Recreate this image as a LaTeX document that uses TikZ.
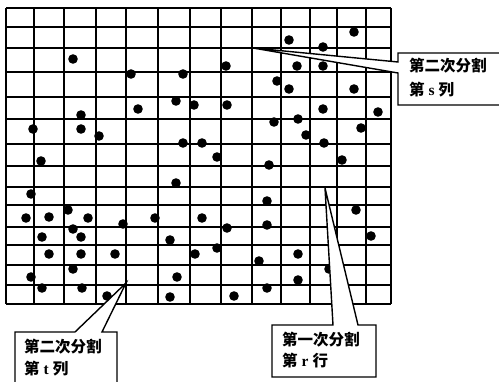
\documentclass[tikz,border=0pt]{standalone}
\usepackage{fontspec}
\setmainfont{Liberation Serif}
\newfontfamily\cjk{Noto Sans CJK SC}
\begin{document}
\begin{tikzpicture}[x=1pt,y=-1pt,
  gridline/.style={line width=1.7pt},
  callout/.style={draw=black,fill=white,line width=1.4pt,line join=miter},
  lbl/.style={anchor=west,inner sep=0pt,font=\fontsize{15.5}{18}\selectfont\bfseries}]
\useasboundingbox (0,0) rectangle (499,382);
\clip (0,0) rectangle (499,382);
% grid
\foreach \x in {6,34,64,96,126,158,190,221,252,281,310,337,366,391}
  \draw[gridline] (\x,8) -- (\x,304);
\foreach \y in {8,27,48,72,97,119,144,166,187,205,227,245,265,285,304}
  \draw[gridline] (6,\y) -- (391,\y);
% dots
\foreach \p in {(73,59),(131,74),(183,74),(81,115),(138,109),(176,101),(194,105),(33,129),(81,129),(99,136),(183,143),(202,143),
 (289,40),(354,32),(323,47),(226,66),(297,66),(323,66),(277,81),(289,89),(354,89),(227,105),(323,109),(378,112),(274,122),(298,119),(306,135),(361,128),(324,143),
 (41,161),(176,183),(31,194),(26,218),(49,217),(68,210),(88,218),(123,224),(155,218),(202,218),(73,229),(81,237),(42,237),(170,240),(49,254),(81,254),(115,254),(195,254),(73,269),(31,277),(177,277),(42,288),(82,288),(107,296),(170,297),
 (217,157),(269,165),(342,160),(267,201),(356,210),(227,228),(267,225),(371,236),(217,248),(259,261),(298,254),(298,280),(329,269),(267,288),(234,296)}
  \fill \p circle (4.8pt);
% callouts
\draw[callout] (253,48) -- (398,62) -- (398,53) -- (506,53) -- (506,105) -- (398,105) -- (398,73) -- cycle;
\draw[callout] (126,283) -- (102,332) -- (117,332) -- (117,392) -- (15,392) -- (15,332) -- (75,332) -- cycle;
\draw[callout] (325,188) -- (358,325) -- (376,325) -- (376,377) -- (272,377) -- (272,325) -- (333,325) -- cycle;
% labels
\node[lbl] (s1) at (409,66) {\cjk 第二次分割};
\node[lbl] (s2) at (409,90) {{\cjk 第}\hspace{4pt}s\hspace{4pt}{\cjk 列}};
\node[lbl] (t1) at (24,347) {\cjk 第二次分割};
\node[lbl] (t2) at (24,369) {{\cjk 第}\hspace{4pt}t\hspace{4pt}{\cjk 列}};
\node[lbl] (r1) at (282,340) {\cjk 第一次分割};
\node[lbl] (r2) at (282,361) {{\cjk 第}\hspace{4pt}r\hspace{4pt}{\cjk 行}};
\end{tikzpicture}
\end{document}
